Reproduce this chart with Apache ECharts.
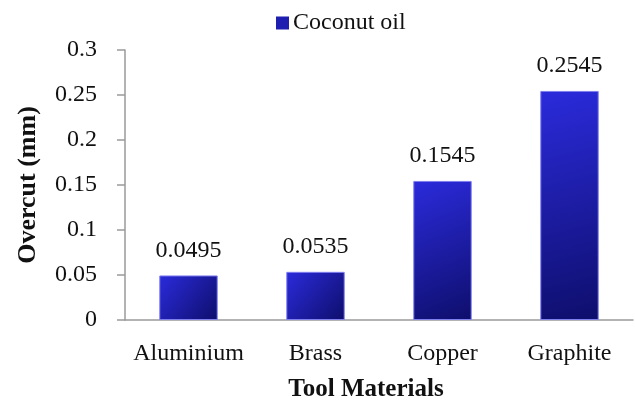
<!DOCTYPE html>
<html>
<head>
<meta charset="utf-8">
<script src="https://cdn.jsdelivr.net/npm/echarts@6/dist/echarts.min.js"></script>
<style>
  html, body { margin: 0; padding: 0; background: #fff; }
  #chart { width: 635px; height: 401px; }
</style>
</head>
<body>
<div id="chart"></div>
<script>
// Overcut per tool material, coconut oil dielectric
const categories = ['Aluminium', 'Brass', 'Copper', 'Graphite'];
const overcut = [0.0495, 0.0535, 0.1545, 0.2545];
const seriesName = 'Coconut oil';
const yTicks = [0, 0.05, 0.1, 0.15, 0.2, 0.25, 0.3];

const font = '"Liberation Serif", "Times New Roman", serif';
const barFill = new echarts.graphic.LinearGradient(0, 0, 1, 1, [
  { offset: 0, color: '#2b2bdc' },
  { offset: 1, color: '#0e0e6c' }
]);

const chart = echarts.init(document.getElementById('chart'));
chart.setOption({
  animation: false,
  textStyle: { fontFamily: font },
  legend: {
    top: 6,
    left: 271,
    itemWidth: 13,
    itemHeight: 13,
    itemGap: 6,
    itemStyle: { color: '#1e1eb0', borderWidth: 0 },
    textStyle: { fontFamily: font, fontSize: 24, color: '#111', padding: [0, 0, 0, -1] },
    data: [{ name: seriesName, icon: 'rect' }]
  },
  grid: { left: 125, right: 2, top: 50, bottom: 81, containLabel: false, outerBoundsMode: 'none' },
  xAxis: {
    type: 'category',
    data: categories,
    name: 'Tool Materials',
    nameLocation: 'middle',
    nameGap: 57,
    nameTextStyle: {
      fontFamily: font, fontSize: 25, fontWeight: 'bold', color: '#111',
      padding: [0, 26, 0, 0]
    },
    axisLine: { lineStyle: { color: '#9a9a9a', width: 1.5 } },
    axisTick: { show: false },
    axisLabel: { fontFamily: font, fontSize: 24, color: '#111', margin: 22, interval: 0 }
  },
  yAxis: {
    type: 'value',
    min: yTicks[0],
    max: yTicks[yTicks.length - 1],
    interval: 0.05,
    name: 'Overcut (mm)',
    nameLocation: 'middle',
    nameGap: 84,
    nameTextStyle: { fontFamily: font, fontSize: 26, fontWeight: 'bold', color: '#111' },
    splitLine: { show: false },
    axisLine: { show: true, lineStyle: { color: '#9a9a9a', width: 1.5 } },
    axisTick: { show: true, inside: false, length: 8, lineStyle: { color: '#9a9a9a', width: 1.5 } },
    axisLabel: {
      fontFamily: font, fontSize: 24, color: '#111', margin: 28,
      formatter: v => String(+v.toFixed(2))
    }
  },
  series: [{
    name: seriesName,
    type: 'bar',
    data: overcut,
    barWidth: '46%',
    itemStyle: { color: barFill, borderColor: '#7f7ff0', borderWidth: 1 },
    label: {
      show: true,
      position: 'top',
      distance: 13,
      fontFamily: font,
      fontSize: 24,
      color: '#111',
      formatter: p => String(p.value)
    }
  }]
});
</script>
</body>
</html>
